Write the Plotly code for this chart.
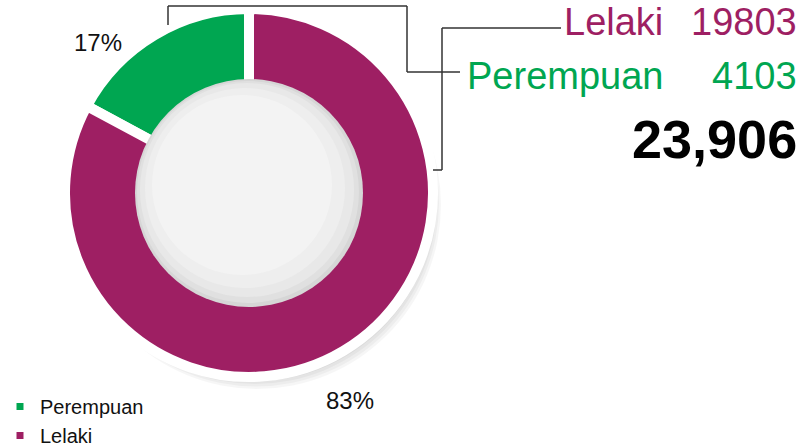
import plotly.graph_objects as go

labels = ["Perempuan", "Lelaki"]
values = [4103, 19803]
colors = ["#00A651", "#9E1F63"]

W, H = 804, 448
FONT = "Liberation Sans, Arial, sans-serif"


def px(x, y):
    # pixel position -> paper fraction
    return x / W, 1 - y / H


def circle(cx, cy, r, fill, opacity=1.0, layer="below"):
    x0, y1 = px(cx - r, cy - r)
    x1, y0 = px(cx + r, cy + r)
    return dict(type="circle", xref="paper", yref="paper", x0=x0, x1=x1, y0=y0, y1=y1,
                fillcolor=fill, opacity=opacity, line=dict(width=0), layer=layer)


total = sum(values)
# first slice (Perempuan) ends at 12 o'clock, the rest runs clockwise
rot = -360 * values[0] / total

cx, cy, r = 249, 193, 184

fig = go.Figure()
fig.add_trace(go.Pie(
    labels=labels, values=values, sort=False, direction="clockwise", rotation=rot,
    hole=0.58, marker=dict(colors=colors, line=dict(color="white", width=10)),
    textinfo="none", hoverinfo="label+value+percent",
    domain=dict(x=[(cx - r) / W, (cx + r) / W], y=[1 - (cy + r) / H, 1 - (cy - r) / H]),
))

# soft drop shadow behind the ring
shapes = [circle(cx + 2 + k, cy + 3 + k * 1.5, 178 + k, "#000", 0.035) for k in range(7)]
# centre disc with a little shading
shapes += [
    circle(cx, cy, 114, "#d6d6d6", layer="above"),
    circle(cx - 1, cy - 1, 111, "#e0e0e0", layer="above"),
    circle(cx - 2, cy - 3, 107, "#e8e8e8", layer="above"),
    circle(cx - 4, cy - 5, 100, "#eeeeee", layer="above"),
    circle(cx - 7, cy - 8, 90, "#f3f3f3", layer="above"),
]
line = dict(color="#333", width=1.5)
for pts in ([(168, 25), (168, 6), (407, 6), (407, 72), (460, 72)],
            [(433, 170), (442, 170), (442, 28), (561, 28)]):
    for (xa, ya), (xb, yb) in zip(pts[:-1], pts[1:]):
        x0, y0 = px(xa, ya)
        x1, y1 = px(xb, yb)
        shapes.append(dict(type="line", xref="paper", yref="paper",
                           x0=x0, y0=y0, x1=x1, y1=y1, line=line))

ann = []
for lab, val, col, y in zip(labels, values, colors, [76, 22]):
    ann.append(dict(text=lab, x=665 / W, y=1 - y / H, xanchor="right", yanchor="middle",
                    font=dict(size=38, color=col, family=FONT)))
    ann.append(dict(text=str(val), x=799 / W, y=1 - y / H, xanchor="right", yanchor="middle",
                    font=dict(size=38, color=col, family=FONT)))
ann.append(dict(text=f"<b>{total:,}</b>", x=799 / W, y=1 - 139 / H, xanchor="right", yanchor="middle",
                font=dict(size=54, color="#000", family=FONT)))
# percentage labels beside the ring
for val, (x, y) in zip(values, [(98, 42), (350, 400)]):
    ann.append(dict(text=f"{round(100 * val / total)}%", x=x / W, y=1 - y / H,
                    xanchor="center", yanchor="middle",
                    font=dict(size=24, color="#111", family=FONT)))
for a in ann:
    a.update(xref="paper", yref="paper", showarrow=False)

fig.update_layout(
    width=W, height=H,
    # keep the legend from pushing the bottom margin (it would squeeze everything)
    margin=dict(l=0, r=0, t=0, b=0, autoexpand=False),
    paper_bgcolor="white", plot_bgcolor="white",
    shapes=shapes, annotations=ann,
    legend=dict(x=0, y=1 - 387 / H, xanchor="left", yanchor="top", traceorder="normal",
                font=dict(size=20, color="#111", family=FONT), tracegroupgap=0),
    font=dict(family=FONT),
)

# page body has an 8px default margin; drop it so the figure fills the window
fig.write_html("out.html", config={"displayModeBar": False},
               post_script="document.body.style.margin='0px';")
